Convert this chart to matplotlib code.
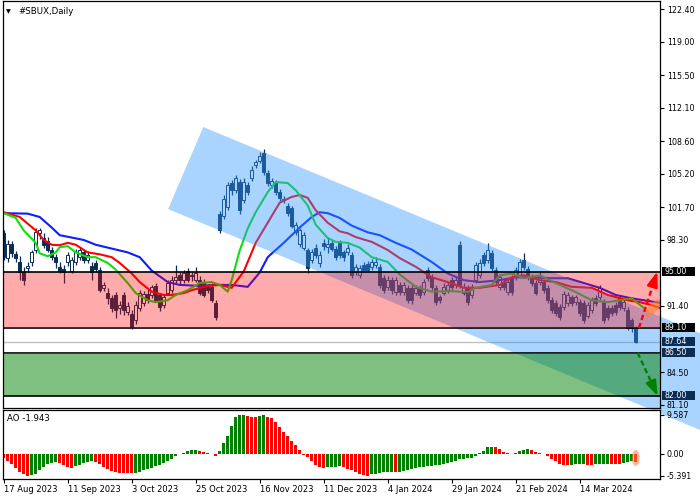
import numpy as np
import matplotlib
matplotlib.use('Agg')
import matplotlib.pyplot as plt
from matplotlib.patches import Polygon, Ellipse, Rectangle
from matplotlib.transforms import ScaledTranslation

# daily candles, 17 Aug 2023 .. early Apr 2024 (bar index 0..158)
opens = [99.0, 96.4, 97.9, 96.8, 96.0, 94.9, 95.4, 96.0, 97.2, 99.0,
         98.5, 98.2, 97.2, 96.5, 95.5, 95.3, 96.0, 95.1, 96.0, 96.5,
         97.0, 96.2, 95.6, 95.9, 95.2, 93.3, 92.8, 92.2, 92.5, 91.2,
         92.5, 90.8, 90.6, 89.9, 91.2, 91.7, 92.7, 92.5, 93.5, 92.5,
         91.5, 92.8, 93.1, 94.1, 94.6, 94.1, 95.1, 94.5, 94.1, 94.1,
         93.8, 93.4, 93.4, 91.7, 101.0, 100.8, 101.7, 104.2, 103.5, 104.4,
         102.5, 104.0, 104.8, 106.1, 106.6, 107.4, 105.3, 104.0, 104.3, 103.3,
         102.6, 101.9, 101.6, 99.1, 97.9, 97.5, 97.2, 96.2, 97.5, 95.9,
         98.0, 97.6, 98.0, 97.4, 98.0, 97.0, 97.0, 96.7, 94.9, 94.6,
         95.7, 95.8, 95.5, 95.7, 95.5, 94.3, 93.4, 94.1, 92.9, 93.6,
         92.9, 93.3, 93.3, 92.8, 93.3, 92.9, 95.2, 94.4, 93.3, 92.3,
         92.8, 93.1, 94.1, 93.6, 97.8, 92.8, 93.3, 92.5, 94.1, 94.6,
         96.7, 96.2, 96.9, 95.2, 93.4, 93.9, 92.9, 94.3, 94.4, 94.6,
         96.2, 95.3, 94.4, 93.8, 93.9, 93.9, 93.3, 92.0, 91.7, 91.3,
         91.3, 91.7, 92.3, 91.8, 91.8, 91.7, 90.4, 91.0, 92.2, 92.3,
         91.8, 91.2, 91.2, 91.5, 92.2, 91.2, 91.0, 89.9, 89.1]
highs = [99.3, 98.3, 98.2, 97.1, 96.6, 95.5, 96.0, 97.3, 99.6, 99.6,
         99.0, 98.6, 97.6, 96.8, 96.0, 95.7, 97.0, 96.5, 97.4, 97.6,
         97.3, 97.1, 96.0, 96.2, 95.5, 93.9, 93.3, 92.5, 92.9, 91.9,
         92.9, 91.8, 91.0, 91.9, 93.1, 93.0, 93.2, 93.6, 93.8, 92.8,
         92.6, 94.1, 94.5, 95.7, 95.0, 95.2, 95.4, 95.0, 95.5, 94.5,
         94.2, 93.7, 93.8, 92.0, 101.3, 103.0, 104.4, 104.6, 105.1, 104.7,
         104.8, 104.4, 106.0, 106.7, 107.5, 107.8, 105.6, 104.8, 104.6, 103.6,
         102.9, 102.2, 101.9, 100.2, 99.6, 99.1, 97.5, 97.4, 97.9, 97.1,
         98.4, 98.6, 98.3, 97.7, 98.3, 97.3, 97.9, 97.0, 95.8, 95.7,
         96.0, 96.1, 96.3, 96.5, 95.8, 94.6, 94.5, 94.4, 94.4, 93.9,
         93.9, 93.6, 93.6, 93.6, 93.6, 94.2, 95.5, 94.7, 93.6, 92.6,
         93.8, 93.9, 94.4, 94.4, 98.2, 93.8, 93.6, 93.7, 96.0, 96.3,
         97.0, 98.0, 97.2, 95.5, 94.7, 94.2, 94.2, 94.6, 95.5, 96.3,
         96.9, 95.6, 94.7, 94.1, 94.9, 94.2, 93.6, 92.3, 92.0, 91.6,
         93.0, 92.9, 92.6, 92.6, 92.1, 92.0, 91.8, 92.3, 92.5, 93.6,
         92.1, 91.5, 91.5, 91.8, 92.5, 92.1, 91.3, 90.1, 89.3]
lows = [96.2, 96.0, 96.5, 96.0, 94.1, 93.6, 95.0, 95.6, 96.9, 98.4,
        97.5, 97.0, 96.2, 95.4, 94.8, 93.8, 95.6, 94.8, 95.7, 96.2,
        95.9, 95.9, 94.1, 94.9, 92.9, 93.0, 91.6, 90.8, 90.1, 90.6,
        90.5, 90.5, 89.0, 89.5, 90.9, 91.4, 91.7, 92.2, 91.8, 90.9,
        91.2, 92.5, 92.8, 93.8, 93.7, 93.8, 93.9, 94.0, 93.9, 92.5,
        92.3, 92.8, 91.8, 89.9, 99.0, 100.5, 101.4, 103.0, 103.2, 101.0,
        102.2, 103.0, 104.5, 105.8, 106.3, 105.1, 103.9, 103.7, 103.0, 102.4,
        102.2, 100.8, 99.5, 98.8, 97.6, 97.2, 94.8, 95.9, 96.4, 95.5,
        97.3, 96.9, 97.1, 96.2, 96.4, 96.1, 96.7, 94.3, 94.6, 94.3,
        94.9, 94.9, 95.2, 95.4, 93.3, 92.8, 93.1, 92.7, 92.6, 92.6,
        92.6, 91.7, 91.6, 92.5, 92.2, 92.6, 94.0, 93.1, 91.5, 91.7,
        92.5, 92.8, 93.1, 93.3, 93.3, 92.5, 91.5, 92.2, 93.8, 94.3,
        95.6, 95.9, 95.1, 93.6, 93.1, 93.1, 92.6, 92.6, 94.1, 94.3,
        95.2, 94.1, 93.5, 92.5, 93.6, 92.8, 91.7, 90.7, 90.4, 89.9,
        91.0, 91.4, 91.4, 91.5, 90.4, 89.6, 90.1, 90.7, 91.4, 92.0,
        89.6, 89.9, 90.4, 90.5, 91.0, 90.9, 88.9, 88.7, 87.5]
closes = [96.5, 97.9, 96.9, 96.4, 95.0, 94.1, 95.6, 97.0, 99.1, 99.3,
          97.8, 97.3, 96.5, 96.0, 95.1, 94.9, 96.7, 96.2, 97.0, 97.2,
          96.2, 96.7, 95.0, 95.3, 93.1, 93.6, 92.2, 91.2, 91.0, 91.5,
          91.0, 91.4, 89.2, 91.5, 92.8, 92.7, 92.0, 93.4, 92.0, 91.3,
          92.3, 93.8, 94.1, 94.4, 94.1, 94.8, 94.1, 94.6, 94.8, 92.8,
          92.5, 93.1, 92.0, 90.3, 99.3, 102.6, 104.0, 103.5, 104.8, 101.4,
          104.4, 103.3, 105.6, 106.4, 107.1, 105.4, 104.2, 104.5, 103.3, 102.7,
          102.5, 101.1, 99.8, 99.9, 99.3, 98.8, 95.4, 97.0, 96.7, 96.7,
          97.7, 97.9, 97.4, 96.5, 96.7, 96.5, 97.5, 94.6, 95.5, 95.4,
          95.2, 95.2, 96.0, 96.0, 93.6, 93.1, 94.1, 93.1, 94.1, 92.9,
          93.6, 92.0, 92.0, 93.3, 92.5, 93.9, 94.3, 93.4, 91.8, 92.0,
          93.4, 93.6, 93.4, 94.1, 93.6, 93.4, 91.8, 93.4, 95.7, 95.9,
          95.9, 97.2, 95.4, 93.9, 94.4, 93.4, 93.9, 92.9, 95.2, 96.0,
          95.5, 94.4, 93.8, 92.8, 94.6, 93.1, 92.0, 91.0, 90.7, 90.2,
          92.7, 92.5, 91.7, 92.3, 90.7, 89.9, 91.5, 92.0, 91.7, 93.3,
          89.9, 90.2, 90.7, 90.8, 91.3, 91.8, 89.1, 89.1, 87.64]

date_labels = ['17 Aug 2023', '11 Sep 2023', '3 Oct 2023', '25 Oct 2023',
               '16 Nov 2023', '11 Dec 2023', '4 Jan 2024', '29 Jan 2024',
               '21 Feb 2024', '14 Mar 2024']
date_pos = [0, 16, 32, 48, 64, 80, 96, 112, 128, 144]

# Awesome Oscillator
ao = [-1.0, -1.6, -2.4, -3.4, -4.3, -4.9, -5.391, -5.2, -4.8, -3.9,
      -3.1, -2.5, -2.1, -1.9, -2.3, -2.8, -3.3, -3.5, -3.0, -2.6,
      -2.3, -2.0, -1.8, -2.0, -2.5, -3.1, -3.6, -4.1, -4.5, -4.6,
      -4.65, -4.7, -4.75, -4.6, -4.3, -4.0, -3.7, -3.4, -3.0, -2.6,
      -2.2, -1.7, -1.2, -0.6, -0.1, 0.3, 0.7, 1.0, 1.1, 0.8,
      0.5, 0.2, -0.1, -0.5, 0.8, 2.6, 4.5, 6.8, 9.0, 9.5,
      9.587, 9.4, 9.2, 9.1, 9.3, 9.5, 9.2, 8.8, 7.9, 6.7,
      5.5, 4.4, 3.3, 2.1, 1.0, -0.3, -0.8, -1.6, -2.6, -3.3,
      -3.5, -3.3, -3.2, -3.1, -3.0, -3.2, -3.6, -4.0, -4.5, -5.0,
      -5.2, -5.3, -5.0, -4.8, -4.6, -4.5, -4.4, -4.3, -4.5, -4.3,
      -4.1, -3.9, -3.7, -3.5, -3.3, -3.2, -3.0, -2.9, -2.8, -2.6,
      -2.4, -2.2, -1.9, -1.6, -1.3, -1.2, -1.1, -0.9, -0.6, 0.2,
      0.8, 1.7, 1.8, 1.6, 1.2, 0.6, 0.2, 0.05, 0.3, 0.8,
      1.1, 1.2, 1.0, 0.6, 0.3, -0.1, -0.6, -1.2, -1.8, -2.4,
      -2.6, -2.65, -2.6, -2.55, -2.5, -2.45, -2.6, -2.65, -2.5, -2.45,
      -2.4, -2.35, -2.45, -2.5, -2.55, -2.2, -1.85, -1.75, -1.943]

# Alligator lines (already shifted forward)
jaw_x = [0, 6, 9, 12, 14, 17, 20, 23, 27, 31, 34, 37, 41, 44, 49, 53, 57, 61,
         64, 66, 70, 74, 77, 79, 81, 84, 87, 91, 94, 98, 102, 107, 111, 115,
         119, 124, 128, 132, 137, 141, 145, 149, 153, 157, 166]
jaw_y = [101.1, 101.05, 100.7, 99.6, 98.8, 98.55, 98.3, 97.8, 97.4, 97.0, 96.5,
         95.1, 93.9, 93.6, 93.5, 93.6, 93.6, 93.4, 94.9, 96.5, 98.0, 99.6,
         100.7, 101.2, 101.1, 100.6, 99.8, 99.1, 98.8, 98.0, 97.3, 96.0, 94.8,
         94.1, 93.9, 94.1, 94.4, 94.4, 94.3, 94.3, 93.8, 93.3, 92.55, 92.2, 91.6]
teeth_x = [0, 4, 8, 10, 12, 14, 16, 18, 21, 24, 27, 29, 32, 34, 37, 40, 42, 45,
           47, 51, 54, 57, 60, 63, 66, 69, 72, 74, 76, 78, 81, 84, 86, 88, 92,
           96, 99, 103, 107, 111, 115, 119, 124, 127, 130, 134, 138, 142, 147,
           151, 156, 159, 162, 164]
teeth_y = [101.2, 100.7, 99.3, 98.3, 97.8, 97.75, 98.0, 97.8, 97.0, 96.8, 96.5,
           95.9, 94.8, 93.9, 92.9, 92.55, 92.55, 92.75, 93.05, 93.5, 93.6, 93.3,
           95.0, 98.0, 100.1, 102.2, 102.8, 103.0, 102.7, 101.4, 100.1, 99.2,
           99.0, 98.6, 98.1, 97.25, 96.4, 95.5, 94.4, 93.9, 93.3, 93.3, 93.6,
           94.4, 94.6, 94.1, 93.9, 93.4, 93.3, 92.55, 92.0, 91.8, 91.5, 91.2]
lips_x = [0, 3, 5, 8, 9, 11, 13, 14, 16, 18, 21, 23, 26, 28, 31, 33, 36, 38,
          41, 43, 46, 49, 52, 54, 56, 57, 59, 61, 63, 66, 68, 71, 73, 76, 78,
          81, 83, 86, 89, 92, 96, 99, 103, 107, 112, 116, 118, 122, 124, 127,
          130, 134, 138, 143, 147, 151, 154, 157, 160]
lips_y = [101.1, 100.6, 99.3, 98.0, 96.9, 96.6, 97.0, 97.55, 97.65, 97.0, 96.5,
          96.5, 95.9, 95.2, 93.8, 92.75, 92.0, 91.8, 92.0, 92.55, 93.05, 93.8,
          93.9, 93.6, 92.9, 94.1, 97.2, 99.5, 101.2, 103.3, 104.35, 104.25,
          103.5, 101.9, 99.9, 98.5, 98.1, 98.0, 97.5, 96.5, 96.0, 94.7, 93.4,
          92.9, 92.95, 92.85, 93.3, 93.6, 94.6, 94.8, 94.3, 94.6, 93.8, 92.85,
          92.0, 91.8, 92.0, 92.2, 91.2]

# drawn levels and channel
res_top, res_bot = 95.0, 89.1
sup_top, sup_bot = 86.5, 82.0
last_price = 87.64
channel = [(41.1, 101.53), (49.9, 110.10), (174.1, 88.57), (174.1, 78.44)]
up_arrow = [(158.8, 89.1), (163.4, 95.0)]
down_arrow = [(158.5, 86.5), (163.5, 82.0)]

price_ticks = [122.40, 119.00, 115.50, 112.10, 108.60, 105.20, 101.70, 98.30,
               91.40, 84.50, 81.10]
boxed = [(95.00, 'black'), (89.10, 'black'), (87.64, '#0b2d55'),
         (86.50, '#0b2d55'), (82.00, '#0b2d55')]

navy = '#0b2d55'

fig = plt.figure(figsize=(7, 5), dpi=100)
ax = fig.add_axes([2.5 / 700, 1 - 408 / 500, 657.5 / 700, 407 / 500])
ax2 = fig.add_axes([2.5 / 700, 1 - 479 / 500, 657.5 / 700, 69 / 500])

x = np.arange(len(closes))
o, h, l, c = map(np.array, (opens, highs, lows, closes))
up = c >= o

# candles
ax.vlines(x, l, h, color=navy, lw=0.9, zorder=2)
ax.bar(x[up], c[up] - o[up], bottom=o[up], width=0.62, color='white',
       edgecolor=navy, lw=0.7, zorder=2.1)
ax.bar(x[~up], o[~up] - c[~up], bottom=c[~up], width=0.62, color=navy,
       edgecolor=navy, lw=0.7, zorder=2.1)

# alligator
ax.plot(jaw_x, jaw_y, color='#0a1eff', lw=1.5, zorder=3)
ax.plot(teeth_x, teeth_y, color='#ff0000', lw=1.5, zorder=3)
ax.plot(lips_x, lips_y, color='#12dd12', lw=1.5, zorder=3)

ax.axhline(last_price, color='#c0c0c0', lw=1, zorder=1.5)

# channel
ax.add_patch(Polygon(channel, closed=True, fc='#3399ff', alpha=0.42, lw=0,
                     zorder=4, clip_on=False))

# zones
ax.axhline(res_bot, color='black', lw=1.2, zorder=4.5)
ax.axhline(sup_top, color='black', lw=1.2, zorder=4.5)
ax.axhspan(res_bot, res_top, color='red', alpha=0.33, lw=0, zorder=5)
ax.axhspan(sup_bot, sup_top, color='#008000', alpha=0.5, lw=0, zorder=5)
ax.axhline(res_top, color='black', lw=1.2, zorder=5.5)
ax.axhline(sup_bot, color='black', lw=1.2, zorder=5.5)


def dashed_arrow(p0, p1, color):
    (x0, y0), (x1, y1) = p0, p1
    xm, ym = x0 + 0.78 * (x1 - x0), y0 + 0.78 * (y1 - y0)
    ax.plot([x0, xm], [y0, ym], ls=(0, (2.2, 1.4)), color=color, lw=1.7,
            zorder=6)
    ax.annotate('', xy=p1, xytext=(xm, ym), zorder=6,
                arrowprops=dict(arrowstyle='-|>,head_length=0.9,head_width=0.32',
                                color=color, lw=1.7, shrinkA=0, shrinkB=0))


dashed_arrow(*up_arrow, 'red')
dashed_arrow(*down_arrow, 'green')

# orange markers
off = ScaledTranslation(162.4, 91.2, ax.transData)
ax.add_patch(Ellipse((0, 0), 0.22, 0.09, angle=48, fc='#ff8030', alpha=0.6,
                     lw=0, transform=fig.dpi_scale_trans + off, zorder=6))

ax.set_xlim(-0.3, 164.07)
ax.set_ylim(80.74, 123.27)
ax.set_xticks([])
ax.yaxis.tick_right()
ax.set_yticks(price_ticks)
ax.set_yticklabels(['%.2f' % v for v in price_ticks])
ax.tick_params(axis='y', direction='out', length=3, width=0.8, pad=2,
               labelsize=5.7)
ax.yaxis.set_zorder(10)
for s in ax.spines.values():
    s.set_linewidth(0.9)
    s.set_zorder(10)

for val, col in boxed:
    ax.add_patch(Rectangle((1.0025, val - 0.47), 0.05, 0.94, fc=col, lw=0,
                           transform=ax.get_yaxis_transform(), clip_on=False,
                           zorder=11))
    ax.text(1.0075, val, '%.2f' % val, color='white', fontsize=5.7,
            va='center', ha='left', transform=ax.get_yaxis_transform(),
            zorder=12)

ax.text(0.005, 0.974, '\u25bc', fontsize=4.5, va='center', ha='left',
        transform=ax.transAxes, zorder=12)
ax.text(0.0235, 0.974, '#SBUX,Daily', fontsize=6.2, va='center', ha='left',
        transform=ax.transAxes, zorder=12)

# AO panel
ao_arr = np.array(ao)
cols = ['red'] + ['#008000' if ao_arr[i] > ao_arr[i - 1] else '#ff0000'
                  for i in range(1, len(ao_arr))]
ax2.bar(x, ao_arr, width=0.72, color=cols, lw=0)
off2 = ScaledTranslation(x[-1], ao_arr[-1] / 2, ax2.transData)
ax2.add_patch(Ellipse((0, 0), 0.08, 0.16, fc='#ff8040', alpha=0.55, lw=0,
                      transform=fig.dpi_scale_trans + off2, zorder=4))
ax2.set_xlim(-0.3, 164.07)
ax2.set_ylim(-6.14, 10.8)
ax2.yaxis.tick_right()
ax2.set_yticks([9.587, 0.0, -5.391])
ax2.set_yticklabels(['9.587', '0.00', '-5.391'])
ax2.tick_params(axis='y', direction='out', length=3, width=0.8, pad=2,
                labelsize=5.7)
ax2.set_xticks(date_pos)
ax2.set_xticklabels(date_labels)
ax2.tick_params(axis='x', direction='out', length=3, width=0.8, pad=1.5,
                labelsize=6)
for lbl in ax2.get_xticklabels():
    lbl.set_ha('left')
for s in ax2.spines.values():
    s.set_linewidth(0.9)
ax2.text(0.007, 0.88, 'AO -1.943', fontsize=6.2, va='center', ha='left',
         transform=ax2.transAxes)

fig.savefig('out.png', dpi=100)
